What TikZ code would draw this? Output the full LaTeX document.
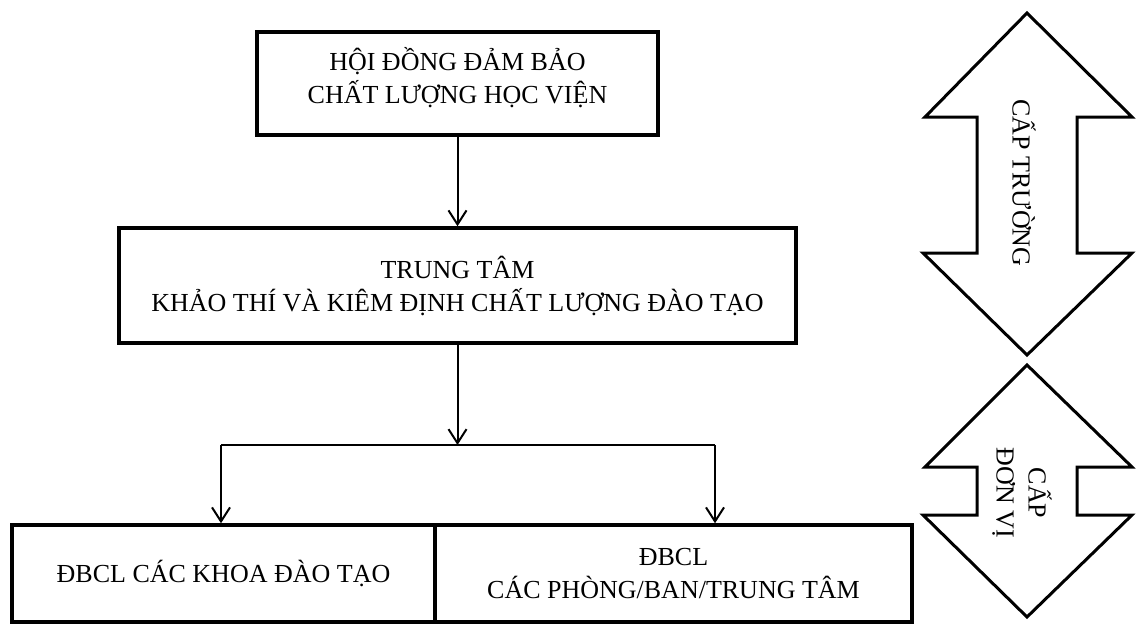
\documentclass[tikz,border=0pt]{standalone}
\usepackage{fontspec}
\setmainfont{Liberation Serif}
\usetikzlibrary{arrows.meta}
\tikzset{
  box/.style={draw=black, line width=3.5pt, align=center, inner sep=0pt,
    font=\fontsize{26}{33}\selectfont},
  conn/.style={line width=2pt, -{Straight Barb[length=14pt,width=18pt,line width=2pt]}},
  plain/.style={line width=2pt},
  bigarrow/.style={draw=black, line width=3pt, line join=miter, fill=white},
  vlabel/.style={rotate=-90, align=center, font=\fontsize{26}{32}\selectfont}
}
\begin{document}
\begin{tikzpicture}[x=1pt,y=-1pt]
\useasboundingbox (0,0) rectangle (1139,624);
\node[box, minimum width=401pt, minimum height=103pt] (b1) at (457.5,83.5)
  {HỘI ĐỒNG ĐẢM BẢO\\CHẤT LƯỢNG HỌC VIỆN\rule[-17pt]{0pt}{17pt}};
\node[box, minimum width=677pt, minimum height=115pt] (b2) at (457.5,285.5)
  {TRUNG TÂM\\KHẢO THÍ VÀ KIÊM ĐỊNH CHẤT LƯỢNG ĐÀO TẠO};
\node[box, minimum width=423pt, minimum height=97pt] (b3l) at (223.5,573.5)
  {ĐBCL CÁC KHOA ĐÀO TẠO};
\node[box, minimum width=477pt, minimum height=97pt] (b3r) at (673.5,573.5)
  {ĐBCL\\CÁC PHÒNG/BAN/TRUNG TÂM};
\draw[conn] (b1.south) -- (b2.north);
\coordinate (split) at (457.5,445);
\coordinate (jl) at (221,445);
\coordinate (jr) at (715,445);
\draw[conn] (b2.south) -- (split);
\draw[plain] (jl) -- (jr);
\draw[conn] (jl) -- (jl |- b3l.north);
\draw[conn] (jr) -- (jr |- b3r.north);
% level arrows
\draw[bigarrow] (1027,13) -- (1132,117) -- (1077,117) -- (1077,253) -- (1132,253)
  -- (1027,355) -- (923,253) -- (977,253) -- (977,117) -- (925,117) -- cycle;
\node[vlabel] (lvl1) at (1024,183) {CẤP TRƯỜNG};
\draw[bigarrow] (1027,365) -- (1132,467) -- (1077,467) -- (1077,515) -- (1132,515)
  -- (1027,617) -- (923,515) -- (977,515) -- (977,467) -- (925,467) -- cycle;
\node[vlabel] (lvl2) at (1022,493) {CẤP\\ĐƠN VỊ};
\end{tikzpicture}
\end{document}
